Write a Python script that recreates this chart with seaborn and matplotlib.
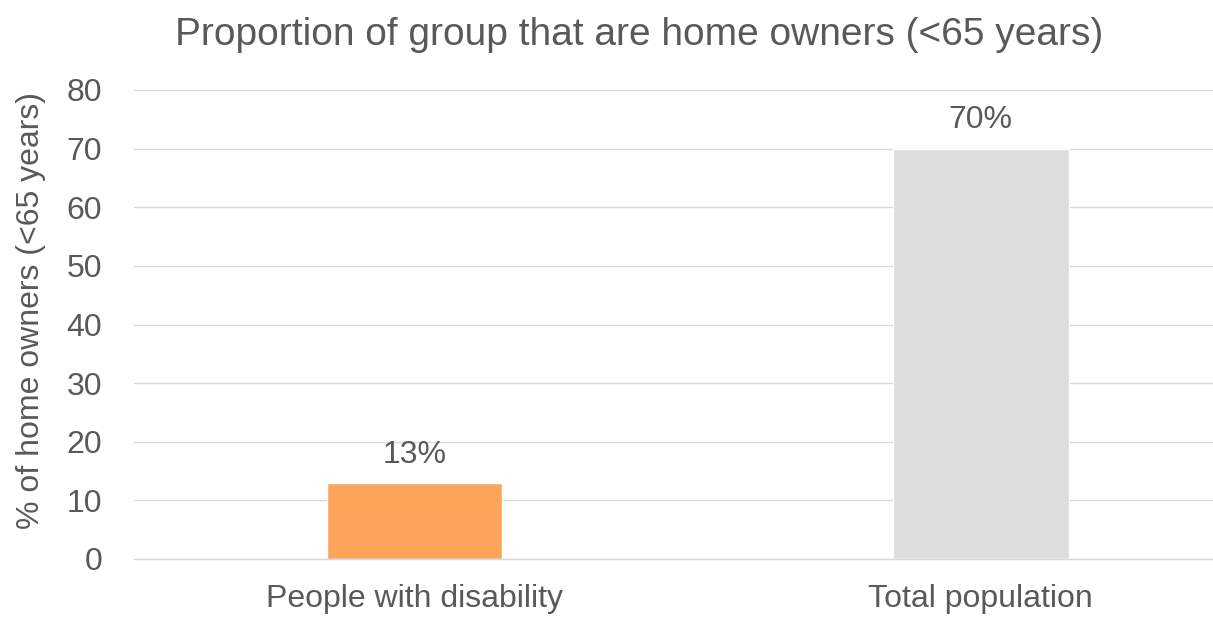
import matplotlib
matplotlib.use("Agg")
import matplotlib.pyplot as plt
import seaborn as sns
import pandas as pd

categories = ["People with disability", "Total population"]
values = [13, 70]
labels = ["13%", "70%"]
colors = ["#FBA55A", "#DDDDDD"]

sns.set_theme(style="white")
plt.rcParams['font.family'] = ['Liberation Sans', 'DejaVu Sans']
text_color = "#595959"

df = pd.DataFrame({"category": categories, "value": values})

fig = plt.figure(figsize=(12.13, 6.18), dpi=100)
ax = fig.add_axes([134/1213, 1 - 559/618, 1 - 134/1213, (559 - 90)/618])

sns.barplot(data=df, x="category", y="value", hue="category", palette=colors,
            width=0.31, legend=False, ax=ax, saturation=1)

ax.set_xlim(-0.495, 1.41)
ax.set_ylim(0, 80)
ax.set_yticks(range(0, 81, 10))
ax.yaxis.grid(True, color="#D9D9D9", linewidth=1)
ax.set_axisbelow(True)
for s in ["top", "right", "left"]:
    ax.spines[s].set_visible(False)
ax.spines["bottom"].set_color("#D9D9D9")
ax.spines["bottom"].set_linewidth(1)

ax.tick_params(axis="both", colors=text_color, labelsize=23, length=0)
ax.tick_params(axis="y", pad=23)
ax.tick_params(axis="x", pad=18)
ax.set_xlabel("")
ax.set_ylabel("% of home owners (<65 years)", fontsize=23, color=text_color)
ax.yaxis.set_label_coords(-0.0816, 0.529)

for i, (v, lab) in enumerate(zip(values, labels)):
    ax.annotate(lab, (i, v), xytext=(0, 9.5), textcoords="offset points",
                ha="center", va="bottom", fontsize=23, color=text_color)

fig.text(639/1213, 1 - 35/618, "Proportion of group that are home owners (<65 years)",
         ha="center", va="center", fontsize=28, color=text_color)

fig.savefig("out.png", dpi=100)
